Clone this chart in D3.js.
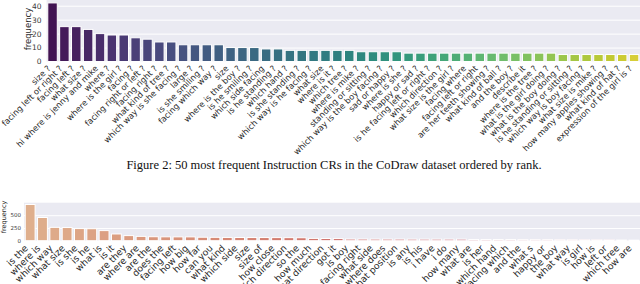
<!DOCTYPE html>
<html><head><meta charset="utf-8">
<script src="https://cdn.jsdelivr.net/npm/d3@7"></script>
<style>body{margin:0;background:#fff} svg{display:block}</style>
</head><body>
<svg id="c" width="640" height="284"></svg>
<script>
const topCategories = ["size ?","facing left or right ?","facing left ?","what size ?","hi where is jenny and mike","where ?","where is the girl ?","facing ?","facing right or left ?","facing right ?","what kind of tree ?","which way is she facing ?","large ?","is she smiling ?","facing which way ?","size","where is the boy ?","is he smiling ?","which side facing","is he standing ?","which hand ?","is she standing ?","which way is he facing ?","what size","where is it ?","which tree ?","where is mike ?","standing or sitting ?","which way is the boy facing ?","sad or happy ?","where is she ?","happy or sad ?","is he facing left or right ?","which direction ?","what size is the girl ?","facing where","facing left or right","are her teeth showing ?","what kind of ball ?","and the boy ?","describe it","where is the tree ?","what is the girl doing ?","what is the boy doing ?","is he standing or sitting ?","which way is boy facing ?","what size is mike ?","how many apples showing ?","what kind of hat ?","expression of the girl is ?"];
const topValues = [42,25,25,23,20,19,19,17,16,14,14,12,12,12,12,10,10,10,9,9,8,8,8,8,8,8,7,7,7,7,6,6,6,6,6,6,6,6,6,6,6,6,6,5,5,5,5,5,5,5];
const topTicks = [0,10,20,30,40];

const bottomCategories = ["is the","where is","which way","what size","is she","is he","what is","is it","are they","where are","are the","does the","facing left","how big","how far","can you","what kind","which side","size","size of","how close","which direction","so the","how much","what direction","got it","is boy","facing right","what side","where does","what position","is any","is his","i have","i do","how many","what are","is her","which hand","facing which","and the","what s","happy or","the boy","what way","is girl","how is","left or","which tree","how are"];
const bottomValues = [710,455,262,258,238,235,198,132,100,85,78,76,75,75,68,66,64,63,62,62,61,60,58,45,43,42,32,32,31,31,31,30,30,30,30,30,24,24,23,23,22,22,22,21,21,20,20,19,12,11];
const bottomTicks = [0,250,500];

const captionText = "Figure 2: 50 most frequent Instruction CRs in the CoDraw dataset ordered by rank.";
const yAxisTitle = "frequency";

const flareStops = ["#edb081","#e98d6b","#e3685c","#d14a61","#b13c6b","#8f3371","#6c2b6d","#4b2362"];
const flare = d3.piecewise(d3.interpolateRgb, flareStops);
const flarePart = t => flare(t * 0.62);

function desat(c, p) { const h = d3.hsl(c); h.s *= p; return h.formatHex(); }
function palette(fn, n) { return d3.range(n).map(i => desat(fn((i + 1) / (n + 1)), 0.75)); }

const svg = d3.select("#c");

function drawChart(o) {
  const g = svg.append("g");
  const x = d3.scaleBand().domain(o.cats).range([o.x0, o.x1]).paddingInner(0.2).paddingOuter(0.1);
  const y = d3.scaleLinear().domain([0, d3.max(o.vals) * 1.05]).range([o.yB, o.yT]);
  const colors = palette(o.cmap, o.cats.length);
  g.append("rect").attr("x", o.x0).attr("y", o.yT).attr("width", o.x1 - o.x0).attr("height", o.yB - o.yT).attr("fill", "#eaeaf2");
  const yAxis = d3.axisLeft(y).tickValues(o.ticks).tickSize(-(o.x1 - o.x0)).tickPadding(o.tickPad).tickFormat(d3.format("d"));
  const ax = g.append("g").attr("transform", `translate(${o.x0},0)`).call(yAxis);
  ax.select(".domain").remove();
  ax.selectAll(".tick line").attr("stroke", "#fff").attr("stroke-width", 1);
  ax.selectAll(".tick text").attr("fill", "#3a3a3a").attr("font-family", "DejaVu Sans").attr("font-size", o.tickFs);
  g.selectAll("rect.bar").data(o.vals).enter().append("rect").attr("class", "bar")
    .attr("x", (d, i) => x(o.cats[i])).attr("width", x.bandwidth())
    .attr("y", d => y(d)).attr("height", d => y(0) - y(d))
    .attr("fill", (d, i) => colors[i]).attr("stroke", "#fff").attr("stroke-width", o.edge);
  const asc = 0.93 * o.labFs, desc = 0.24 * o.labFs;
  g.selectAll("text.xl").data(o.cats).enter().append("text").attr("class", "xl")
    .attr("transform", d => `translate(${x(d) + x.bandwidth() / 2 - 0.707 * desc},${o.yB + o.labPad + 0.707 * asc}) rotate(-45)`)
    .attr("text-anchor", "end").attr("font-family", "DejaVu Sans").attr("font-size", o.labFs).attr("fill", "#2a2a2a")
    .text(d => d);
  g.append("text").attr("transform", `translate(${o.titleX},${o.titleY}) rotate(-90)`)
    .attr("text-anchor", "middle").attr("font-family", "DejaVu Sans").attr("font-size", o.titleFs).attr("fill", "#2a2a2a")
    .text(yAxisTitle);
}

drawChart({cats: topCategories, vals: topValues, ticks: topTicks, x0: 46.6, x1: 640, yT: 0, yB: 61.5,
  cmap: d3.interpolateViridis, tickFs: 7.5, tickPad: 5, labFs: 8.3, labPad: 2, titleFs: 8.5, titleX: 31, titleY: 29, edge: 1});

drawChart({cats: bottomCategories, vals: bottomValues, ticks: bottomTicks, x0: 24, x1: 640, yT: 202.7, yB: 240.7,
  cmap: flarePart, tickFs: 5.5, tickPad: 3, labFs: 9.2, labPad: 2, titleFs: 6.5, titleX: 6, titleY: 217, edge: 1});

svg.append("text").attr("x", 334).attr("y", 169).attr("text-anchor", "middle")
  .attr("font-family", "Liberation Serif").attr("font-size", 12.5).attr("fill", "#111").text(captionText);
</script>
</body></html>
